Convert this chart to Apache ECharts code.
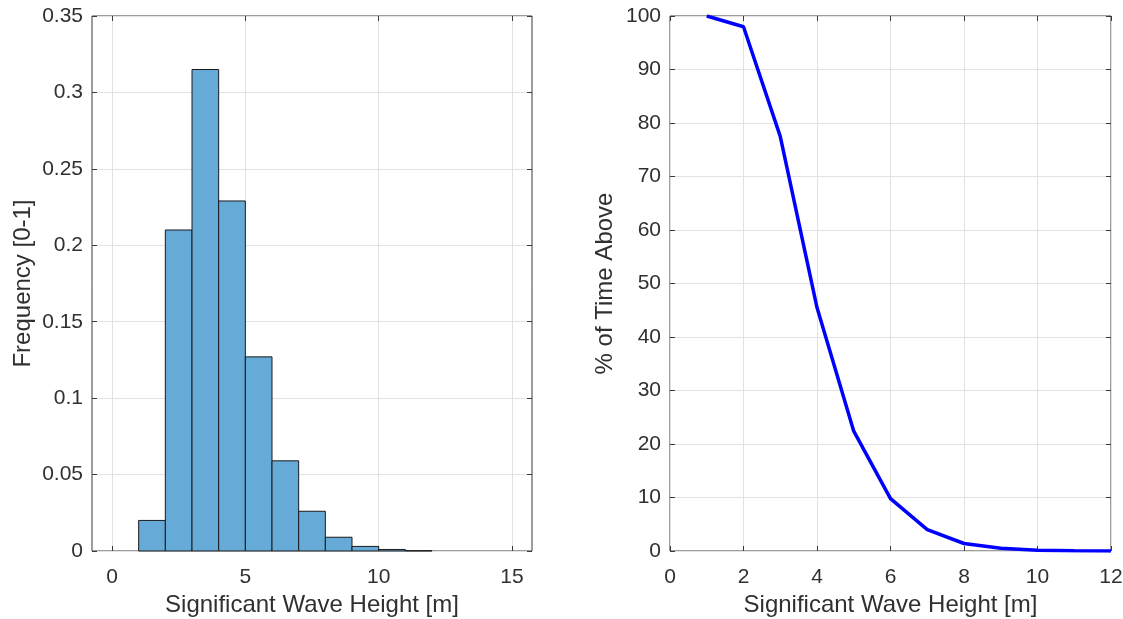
<!DOCTYPE html>
<html>
<head>
<meta charset="utf-8">
<script src="https://cdn.jsdelivr.net/npm/echarts@6/dist/echarts.min.js"></script>
<style>
html,body{margin:0;padding:0;background:#fff;}
#chart{width:1123px;height:619px;}
</style>
</head>
<body>
<div id="chart"></div>
<script>
// Histogram bins (edges in m) and frequencies
const binStarts = [1, 2, 3, 4, 5, 6, 7, 8, 9, 10, 11];
const binEnds   = [2, 3, 4, 5, 6, 7, 8, 9, 10, 11, 12];
const frequency = [0.020, 0.210, 0.315, 0.229, 0.127, 0.059, 0.026, 0.009, 0.003, 0.001, 0.0002];
const histXTicks = [0, 5, 10, 15];

// Exceedance curve
const waveHeight = [1, 2, 3, 4, 5, 6, 7, 8, 9, 10, 11, 12];
const pctAbove   = [100, 98, 77.5, 45.5, 22.4, 9.8, 4.0, 1.4, 0.5, 0.15, 0.05, 0.02];

const FONT = "'Liberation Sans', Arial, Helvetica, sans-serif";
const TXT = '#303030';
const AX = '#3a3a3a';
const GRIDC = '#e2e2e2';

const chart = echarts.init(document.getElementById('chart'), null, {renderer: 'canvas'});

const histData = binStarts.map((s, i) => [s, binEnds[i], frequency[i]]);
const lineData = waveHeight.map((h, i) => [h, pctAbove[i]]);

const tickLabel = {color: TXT, fontFamily: FONT, fontSize: 21};
const nameStyle = {color: TXT, fontFamily: FONT, fontSize: 24};

const option = {
  animation: false,
  backgroundColor: '#fff',
  grid: [
    {left: 92, top: 16, width: 440, height: 535, show: true, borderColor: AX, borderWidth: 1, backgroundColor: '#fff', containLabel: false, outerBoundsMode: 'none'},
    {left: 670, top: 16, width: 441, height: 535, show: true, borderColor: AX, borderWidth: 1, backgroundColor: '#fff', containLabel: false, outerBoundsMode: 'none'}
  ],
  xAxis: [
    {
      gridIndex: 0, type: 'value', min: -0.75, max: 15.75, position: 'bottom',
      name: 'Significant Wave Height [m]', nameLocation: 'middle', nameGap: 41, nameTextStyle: nameStyle,
      axisLine: {show: false, onZero: false},
      axisTick: {show: true, inside: true, length: 5, lineStyle: {color: AX}, customValues: histXTicks},
      axisLabel: Object.assign({margin: 16, customValues: histXTicks}, tickLabel),
      splitLine: {show: true, lineStyle: {color: GRIDC, width: 1}, customValues: histXTicks}
    },
    {
      gridIndex: 0, type: 'value', min: -0.75, max: 15.75, position: 'top',
      axisLine: {show: false, onZero: false},
      axisTick: {show: true, inside: true, length: 5, lineStyle: {color: AX}, customValues: histXTicks},
      axisLabel: {show: false, customValues: histXTicks},
      splitLine: {show: false}
    },
    {
      gridIndex: 1, type: 'value', min: 0, max: 12, interval: 2, position: 'bottom',
      name: 'Significant Wave Height [m]', nameLocation: 'middle', nameGap: 41, nameTextStyle: nameStyle,
      axisLine: {show: false, onZero: false},
      axisTick: {show: true, inside: true, length: 5, lineStyle: {color: AX}},
      axisLabel: Object.assign({margin: 16}, tickLabel),
      splitLine: {show: true, lineStyle: {color: GRIDC, width: 1}}
    },
    {
      gridIndex: 1, type: 'value', min: 0, max: 12, interval: 2, position: 'top',
      axisLine: {show: false, onZero: false},
      axisTick: {show: true, inside: true, length: 5, lineStyle: {color: AX}},
      axisLabel: {show: false},
      splitLine: {show: false}
    }
  ],
  yAxis: [
    {
      gridIndex: 0, type: 'value', min: 0, max: 0.35, interval: 0.05, position: 'left',
      name: 'Frequency [0-1]', nameLocation: 'middle', nameGap: 57, nameTextStyle: nameStyle,
      axisLine: {show: false, onZero: false},
      axisTick: {show: true, inside: true, length: 5, lineStyle: {color: AX}},
      axisLabel: Object.assign({margin: 9}, tickLabel),
      splitLine: {show: true, lineStyle: {color: GRIDC, width: 1}}
    },
    {
      gridIndex: 0, type: 'value', min: 0, max: 0.35, interval: 0.05, position: 'right',
      axisLine: {show: false, onZero: false},
      axisTick: {show: true, inside: true, length: 5, lineStyle: {color: AX}},
      axisLabel: {show: false},
      splitLine: {show: false}
    },
    {
      gridIndex: 1, type: 'value', min: 0, max: 100, interval: 10, position: 'left',
      name: '% of Time Above', nameLocation: 'middle', nameGap: 53, nameTextStyle: nameStyle,
      axisLine: {show: false, onZero: false},
      axisTick: {show: true, inside: true, length: 5, lineStyle: {color: AX}},
      axisLabel: Object.assign({margin: 9}, tickLabel),
      splitLine: {show: true, lineStyle: {color: GRIDC, width: 1}}
    },
    {
      gridIndex: 1, type: 'value', min: 0, max: 100, interval: 10, position: 'right',
      axisLine: {show: false, onZero: false},
      axisTick: {show: true, inside: true, length: 5, lineStyle: {color: AX}},
      axisLabel: {show: false},
      splitLine: {show: false}
    }
  ],
  series: [
    {
      type: 'custom',
      xAxisIndex: 0, yAxisIndex: 0,
      data: histData,
      encode: {x: [0, 1], y: 2},
      renderItem: function (params, api) {
        const p0 = api.coord([api.value(0), api.value(2)]);
        const p1 = api.coord([api.value(1), 0]);
        return {
          type: 'rect',
          shape: {x: p0[0], y: p0[1], width: p1[0] - p0[0], height: p1[1] - p0[1]},
          style: {fill: 'rgb(102,170,215)', stroke: '#1a1a1a', lineWidth: 1}
        };
      }
    },
    {
      type: 'line',
      xAxisIndex: 2, yAxisIndex: 2,
      data: lineData,
      showSymbol: false,
      symbol: 'none',
      lineStyle: {color: '#0000ff', width: 3.5},
      z: 5
    }
  ]
};
chart.setOption(option);
</script>
</body>
</html>
